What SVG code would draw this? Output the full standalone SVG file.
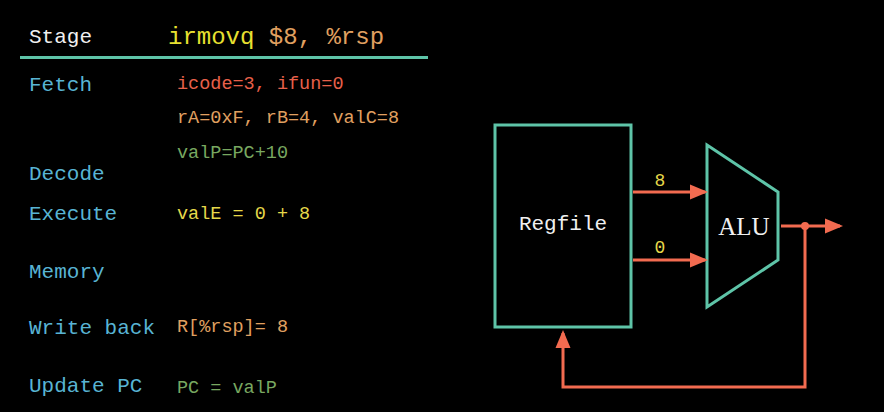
<svg xmlns="http://www.w3.org/2000/svg" width="884" height="412" viewBox="0 0 884 412">
<style>
.mono{font-family:"Liberation Mono","DejaVu Sans Mono",monospace}
.stage{font-size:21px;fill:#58b4d4}
.val{font-size:18.5px}
.shape{fill:none;stroke:#5ec4a8;stroke-width:3}
.wire{fill:none;stroke:#f26b50;stroke-width:3}
</style>
<defs>
<marker id="ah" markerWidth="6" markerHeight="6" refX="5" refY="3" orient="auto" markerUnits="strokeWidth">
<path d="M0,0.5 L6,3 L0,5.5 Z" fill="#f26b50"/>
</marker>
</defs>
<rect width="884" height="412" fill="#000"/>
<g id="table">
<text class="mono" x="29" y="43" font-size="21" fill="#f0f0f0">Stage</text>
<text class="mono" x="168" y="44" font-size="24"><tspan fill="#e8e030">irmovq</tspan><tspan fill="#e0a060"> $8, %rsp</tspan></text>
<line x1="20" y1="57.5" x2="428" y2="57.5" stroke="#5ec4a8" stroke-width="3"/>
<text class="mono stage" x="29" y="91">Fetch</text>
<text class="mono stage" x="29" y="180">Decode</text>
<text class="mono stage" x="29" y="220">Execute</text>
<text class="mono stage" x="29" y="278">Memory</text>
<text class="mono stage" x="29" y="334">Write back</text>
<text class="mono stage" x="29" y="392">Update PC</text>
<text class="mono val" x="177" y="89" fill="#e8604a">icode=3, ifun=0</text>
<text class="mono val" x="177" y="123" fill="#e0a060">rA=0xF, rB=4, valC=8</text>
<text class="mono val" x="177" y="158" fill="#78a860">valP=PC+10</text>
<text class="mono val" x="177" y="219" fill="#e6d84a">valE = 0 + 8</text>
<text class="mono val" x="177" y="332" fill="#e0a060">R[%rsp]= 8</text>
<text class="mono val" x="177" y="393" fill="#78a860">PC = valP</text>
</g>
<g id="regfile">
<rect class="shape" x="495" y="125" width="136" height="202"/>
<text class="mono" x="563" y="230" font-size="21" fill="#f0f0f0" text-anchor="middle">Regfile</text>
</g>
<g id="alu">
<path class="shape" d="M707,145 L778,192 L778,260 L707,307 Z"/>
<text x="744" y="235" font-family="Liberation Serif, serif" font-size="25" fill="#f0f0f0" text-anchor="middle">ALU</text>
</g>
<g id="connectors">
<line class="wire" x1="633" y1="192" x2="705" y2="192" marker-end="url(#ah)"/>
<text class="mono" x="660" y="186" font-size="18" fill="#e6d84a" text-anchor="middle">8</text>
<line class="wire" x1="633" y1="260" x2="705" y2="260" marker-end="url(#ah)"/>
<text class="mono" x="660" y="253" font-size="18" fill="#e6d84a" text-anchor="middle">0</text>
<line class="wire" x1="781" y1="226" x2="840" y2="226" marker-end="url(#ah)"/>
<circle cx="805" cy="226" r="4" fill="#f26b50"/>
<polyline class="wire" points="805,226 805,387 563,387 563,333" marker-end="url(#ah)"/>
</g>
</svg>
